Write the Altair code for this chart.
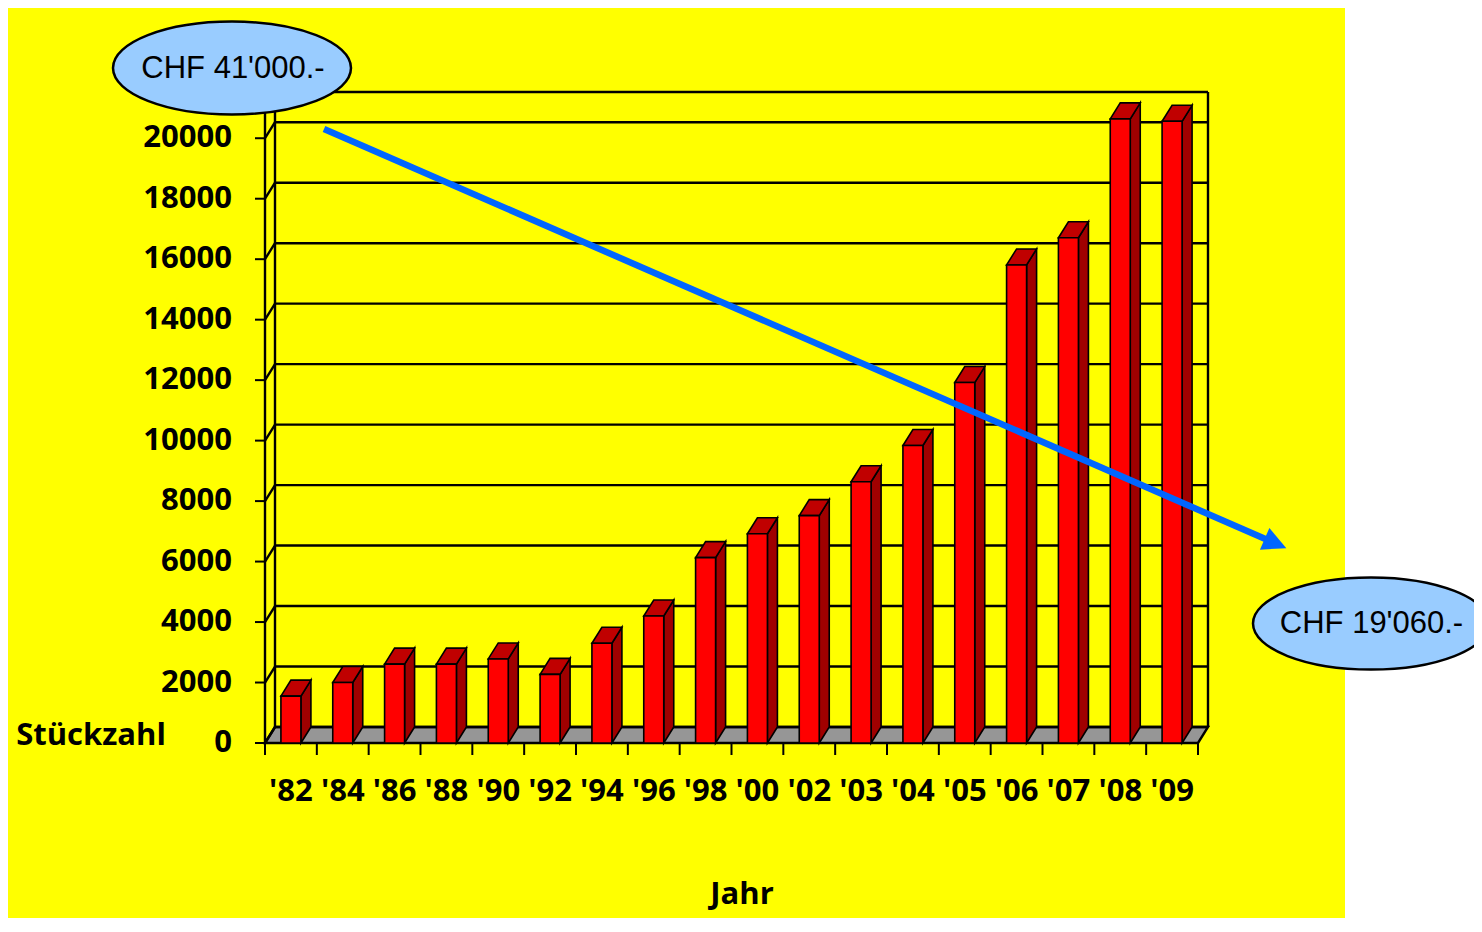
import altair as alt
import pandas as pd

# ---------------- data ----------------
years = ["'82", "'84", "'86", "'88", "'90", "'92", "'94", "'96", "'98",
         "'00", "'02", "'03", "'04", "'05", "'06", "'07", "'08", "'09"]
units = [1550, 2000, 2610, 2610, 2780, 2270, 3300, 4200, 6130,
         6920, 7520, 8640, 9840, 11920, 15810, 16710, 20640, 20560]
y_ticks = [0, 2000, 4000, 6000, 8000, 10000, 12000, 14000, 16000, 18000, 20000]
y_top = 21000
y_title = "Stückzahl"
x_title = "Jahr"
price_start = "CHF 41'000.-"
price_end = "CHF 19'060.-"

# ---------------- geometry ----------------
N = len(years)
WIDTH = 943
HEIGHT = 651
DX_PX, DY_PX = 10, 16
UNIT = (WIDTH - DX_PX) / N
K = (HEIGHT - DY_PX) / y_top
DX = DX_PX / UNIT
DYU = DY_PX / K
XMAX = N + DX
YMAX = HEIGHT / K
BAR_W = 20 / UNIT

xs = alt.Scale(domain=[0, XMAX], nice=False, zero=False)
ys = alt.Scale(domain=[0, YMAX], nice=False, zero=False)

FONT = "Open Sans"
FS = 31
LW = 2.4

# ---------------- tables ----------------
bars = pd.DataFrame({"year": years, "v": units, "i": list(range(N))})
bars["xl"] = bars["i"] + 0.5 - BAR_W / 2
bars["xr"] = bars["i"] + 0.5 + BAR_W / 2
bars["y0"] = 0.0
bars["c"] = bars["i"] + 0.5

side_rows, top_rows = [], []
for _, r in bars.iterrows():
    side_rows.append({"bar": r.i, "x": r.xr, "y": 0.0, "y2": r.v})
    side_rows.append({"bar": r.i, "x": r.xr + DX, "y": DYU, "y2": r.v + DYU})
    top_rows.append({"bar": r.i, "x": r.xl, "y": r.v, "y2": r.v})
    top_rows.append({"bar": r.i, "x": r.xl + DX, "y": r.v, "y2": r.v + DYU})
    top_rows.append({"bar": r.i, "x": r.xr, "y": r.v, "y2": r.v + DYU})
    top_rows.append({"bar": r.i, "x": r.xr + DX, "y": r.v + DYU, "y2": r.v + DYU})
sides = pd.DataFrame(side_rows)
tops = pd.DataFrame(top_rows)

floor = pd.DataFrame({"x": [0, DX, N, N + DX],
                      "y": [0, 0, 0, DYU],
                      "y2": [0, DYU, DYU, DYU]})

grid_vals = y_ticks + [y_top]
grid = pd.DataFrame({"v": grid_vals})
grid["x1"] = DX
grid["x2"] = N + DX
grid["yb"] = grid["v"] + DYU
grid["xa"] = 0.0
grid["xb"] = DX

ylab = pd.DataFrame({"v": y_ticks, "label": [str(t) for t in y_ticks]})

walls = pd.DataFrame({"x": [0.0, DX, N + DX], "y1": [0.0, DYU, DYU],
                      "y2": [y_top, YMAX, YMAX]})
ticks = pd.DataFrame({"t": list(range(N + 1))})
one = pd.DataFrame({"a": [0]})

# ---------------- layers ----------------
white = alt.Chart(one).mark_rect(color="white").encode(
    x=alt.value(1080), x2=alt.value(1300), y=alt.value(-100), y2=alt.value(900))

floor_l = alt.Chart(floor).mark_area(fill="#969696", stroke="black", strokeWidth=LW,
                                     orient="vertical").encode(
    x=alt.X("x:Q", scale=xs, axis=None),
    y=alt.Y("y:Q", scale=ys, axis=None, stack=None),
    y2="y2:Q")

grid_l = alt.Chart(grid).mark_rule(color="black", strokeWidth=LW).encode(
    x=alt.X("x1:Q", scale=xs, axis=None), x2="x2:Q",
    y=alt.Y("yb:Q", scale=ys, axis=None))

diag_l = alt.Chart(grid).mark_rule(color="black", strokeWidth=LW).encode(
    x=alt.X("xa:Q", scale=xs, axis=None), x2="xb:Q",
    y=alt.Y("v:Q", scale=ys, axis=None), y2="yb:Q")

walls_l = alt.Chart(walls).mark_rule(color="black", strokeWidth=LW).encode(
    x=alt.X("x:Q", scale=xs, axis=None),
    y=alt.Y("y1:Q", scale=ys, axis=None), y2="y2:Q")

ytick_l = alt.Chart(ylab).mark_rule(color="black", strokeWidth=2).encode(
    x=alt.value(-10), x2=alt.value(0),
    y=alt.Y("v:Q", scale=ys, axis=None))

ylab_l = alt.Chart(ylab).mark_text(font=FONT, fontWeight="bold", fontSize=FS,
                                   color="black", baseline="middle", align="right").encode(
    x=alt.value(-33),
    y=alt.Y("v:Q", scale=ys, axis=None), text="label:N")

sides_l = alt.Chart(sides).mark_area(fill="#A00000", stroke="black", strokeWidth=1.6,
                                     orient="vertical").encode(
    x=alt.X("x:Q", scale=xs, axis=None),
    y=alt.Y("y:Q", scale=ys, axis=None, stack=None),
    y2="y2:Q", detail="bar:N")

tops_l = alt.Chart(tops).mark_area(fill="#C00000", stroke="black", strokeWidth=1.6,
                                   orient="vertical").encode(
    x=alt.X("x:Q", scale=xs, axis=None),
    y=alt.Y("y:Q", scale=ys, axis=None, stack=None),
    y2="y2:Q", detail="bar:N")

fronts_l = alt.Chart(bars).mark_rect(fill="#FF0000", stroke="black", strokeWidth=1.6).encode(
    x=alt.X("xl:Q", scale=xs, axis=None), x2="xr:Q",
    y=alt.Y("y0:Q", scale=ys, axis=None), y2="v:Q")

ticks_l = alt.Chart(ticks).mark_rule(color="black", strokeWidth=2).encode(
    x=alt.X("t:Q", scale=xs, axis=None),
    y=alt.value(HEIGHT), y2=alt.value(HEIGHT + 12))

xlab_l = alt.Chart(bars).mark_text(font=FONT, fontWeight="bold", fontSize=FS,
                                   color="black", baseline="middle").encode(
    x=alt.X("c:Q", scale=xs, axis=None), y=alt.value(700), text="year:N")

ytitle_l = alt.Chart(one).mark_text(font=FONT, fontWeight="bold", fontSize=FS,
                                    color="black", baseline="middle").encode(
    x=alt.value(-174), y=alt.value(644), text=alt.value(y_title))

xtitle_l = alt.Chart(one).mark_text(font=FONT, fontWeight="bold", fontSize=FS,
                                    color="black", baseline="middle").encode(
    x=alt.value(477), y=alt.value(803), text=alt.value(x_title))

arrow_line = alt.Chart(one).mark_rule(color="#0066FF", strokeWidth=6.5).encode(
    x=alt.value(59), y=alt.value(37), x2=alt.value(1005), y2=alt.value(449))

arrow_head = alt.Chart(one).mark_point(shape="M1,0L-1,-1L-1,1Z", size=560, filled=True,
                                       color="#0066FF", opacity=1, angle=23.5).encode(
    x=alt.value(1010.5), y=alt.value(451.5))

ELLIPSE = "M-1,0A1,0.39,0,0,1,1,0A1,0.39,0,0,1,-1,0Z"

ell1 = alt.Chart(one).mark_point(shape=ELLIPSE, size=238 * 238, filled=True,
                                 fill="#99CCFF", stroke="black", strokeWidth=2.5,
                                 opacity=1).encode(
    x=alt.value(-33), y=alt.value(-24))
ell1_t = alt.Chart(one).mark_text(font="Liberation Sans", fontSize=31, color="black",
                                  baseline="middle").encode(
    x=alt.value(-32), y=alt.value(-23), text=alt.value(price_start))

ell2 = alt.Chart(one).mark_point(shape=ELLIPSE, size=236 * 236, filled=True,
                                 fill="#99CCFF", stroke="black", strokeWidth=2.5,
                                 opacity=1).encode(
    x=alt.value(1106), y=alt.value(531.5))
ell2_t = alt.Chart(one).mark_text(font="Liberation Sans", fontSize=31, color="black",
                                  baseline="middle").encode(
    x=alt.value(1106.5), y=alt.value(532), text=alt.value(price_end))

chart = alt.layer(
    white, floor_l, grid_l, diag_l, walls_l, ytick_l, ylab_l, sides_l, tops_l, fronts_l,
    ticks_l, xlab_l, ytitle_l, xtitle_l, arrow_line, arrow_head,
    ell1, ell1_t, ell2, ell2_t
).properties(
    width=WIDTH, height=HEIGHT,
    background="#FFFF00",
    autosize=alt.AutoSizeParams(type="none"),
    padding={"left": 257, "top": 84, "right": 266, "bottom": 175},
).configure_view(strokeWidth=0)

chart.save("out.html", embed_options={"renderer": "svg", "actions": False})
